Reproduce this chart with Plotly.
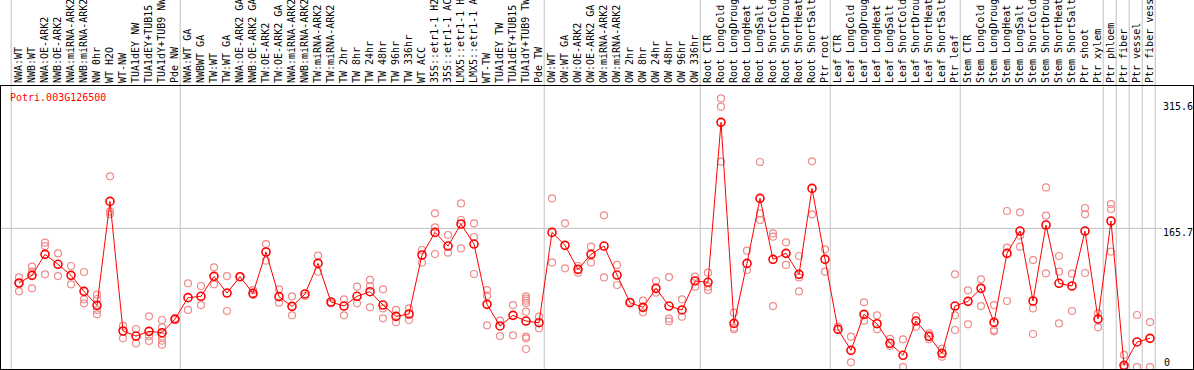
import plotly.graph_objects as go

title_text = "Potri.003G126500"

labels = [
    "NWA:WT", "NWB:WT", "NWA:OE-ARK2", "NWB:OE-ARK2", "NWA:miRNA-ARK2", "NWB:miRNA-ARK2",
    "NW 0hr", "WT H2O", "WT-NW", "TUA1dEY NW", "TUA1dEY+TUB15 NW", "TUA1dY+TUB9 NW", "Pde NW",
    "NWA:WT GA", "NWBWT GA", "TW:WT", "TW:WT GA", "NWA:OE-ARK2 GA", "NWB:OE-ARK2 GA",
    "TW:OE-ARK2", "TW:OE-ARK2 GA", "NWA:miRNA-ARK2 GA", "NWB:miRNA-ARK2 GA", "TW:miRNA-ARK2",
    "TW:miRNA-ARK2 GA", "TW 2hr", "TW 8hr", "TW 24hr", "TW 48hr", "TW 96hr", "TW 336hr",
    "WT ACC", "35S::etr1-1 H2O", "35S::etr1-1 ACC", "LMX5::etr1-1 H2O", "LMX5::etr1-1 ACC",
    "WT-TW", "TUA1dEY TW", "TUA1dEY+TUB15 TW", "TUA1dY+TUB9 TW", "Pde TW",
    "OW:WT", "OW:WT GA", "OW:OE-ARK2", "OW:OE-ARK2 GA", "OW:miRNA-ARK2", "OW:miRNA-ARK2 GA",
    "OW 2hr", "OW 8hr", "OW 24hr", "OW 48hr", "OW 96hr", "OW 336hr",
    "Root CTR", "Root LongCold", "Root LongDrought", "Root LongHeat", "Root LongSalt",
    "Root ShortCold", "Root ShortDrought", "Root ShortHeat", "Root ShortSalt", "Ptr root",
    "Leaf CTR", "Leaf LongCold", "Leaf LongDrought", "Leaf LongHeat", "Leaf LongSalt",
    "Leaf ShortCold", "Leaf ShortDrought", "Leaf ShortHeat", "Leaf ShortSalt", "Ptr leaf",
    "Stem CTR", "Stem LongCold", "Stem LongDrought", "Stem LongHeat", "Stem LongSalt",
    "Stem ShortCold", "Stem ShortDrought", "Stem ShortHeat", "Stem ShortSalt", "Ptr shoot",
    "Ptr xylem", "Ptr phloem", "Ptr fiber", "Ptr vessel", "Ptr fiber vessel",
]

means = [
    100.5, 109.6, 134.7, 122.8, 109.6, 90.5, 73.8, 197.9, 43.2, 37.2, 42.8, 41.2, 57.5,
    83.0, 84.6, 108.4, 88.5, 108.0, 88.1, 137.5, 84.2, 72.6, 87.4, 123.9, 77.8, 73.0,
    84.6, 90.1, 74.2, 60.7, 63.5, 133.9, 160.9, 144.6, 170.9, 147.0, 75.0, 49.2, 61.9,
    55.1, 53.1,
    160.9, 145.4, 116.8, 134.7, 144.6, 110.0, 77.0, 71.4, 94.1, 73.0, 68.3, 102.9,
    101.3, 292.2, 52.3, 123.9, 201.5, 128.7, 135.9, 110.8, 213.4, 128.7,
    45.2, 20.1, 63.1, 51.9, 28.5, 14.2, 55.1, 36.8, 16.5, 73.0,
    78.6, 94.1, 53.5, 135.9, 162.5, 79.0, 169.7, 100.1, 96.9, 162.5,
    57.5, 174.5, 2.2, 30.1, 34.4,
]

replicates = [
    [107.2, 90.5, 100.5], [120.0, 114.0, 94.1], [148.6, 144.6, 110.8], [135.9, 108.8],
    [120.8, 98.9], [113.6, 81.0, 76.2], [86.6, 81.4, 68.3, 63.1], [227.8, 185.6, 182.8],
    [49.2, 34.4], [45.6, 28.5], [60.7, 37.2, 31.3], [56.3, 47.6, 36.4, 31.7, 26.9],
    [56.3, 58.0],
    [100.1, 68.3], [96.9, 74.2], [119.2, 98.9], [108.8, 67.1], [108.0], [92.1, 86.2],
    [147.0, 127.1], [92.9, 77.0], [84.6, 61.9], [85.0], [133.1, 114.0], [76.2],
    [81.0, 61.9], [96.1, 76.2], [104.1, 96.9, 71.4], [92.9, 70.2, 58.3], [68.3, 53.5],
    [70.2, 56.3], [139.9, 124.7], [183.6, 166.9, 135.1], [157.8, 136.7],
    [195.5, 175.7, 141.8], [171.7, 155.4, 111.2], [92.1, 85.4, 50.0], [55.5, 37.2],
    [74.2, 38.0], [84.6, 82.0, 79.4, 76.6, 66.3, 36.4, 34.4, 21.7], [60.3, 46.4],
    [201.5, 125.1], [171.7, 118.0], [120.8, 112.8], [143.8, 125.1], [181.2, 107.2],
    [122.0, 98.1], [78.2], [79.4, 65.5], [102.9, 88.9], [107.6, 57.9, 54.7], [81.0, 60.3],
    [108.0, 96.1],
    [112.8, 96.1, 92.1], [320.8, 310.9, 245.3], [65.1, 47.2, 45.2], [139.1, 116.0],
    [244.9, 183.6, 175.7], [159.7, 155.8, 73.0], [149.0, 122.0], [132.7, 107.2, 90.5],
    [245.7, 182.4], [140.7, 114.0],
    [48.4], [36.4, 5.8], [77.4, 55.5], [61.9, 45.2], [33.7, 25.3], [33.3, 0.0],
    [61.1, 48.4], [40.4, 33.3], [22.2, 12.6], [110.8, 61.9, 44.4],
    [91.7, 51.2], [104.9, 73.0], [74.2, 44.4, 42.8], [186.4, 142.6, 79.0],
    [184.8, 157.0, 143.8], [127.9, 70.2, 39.6], [214.6, 180.8, 112.0],
    [132.7, 114.0, 52.3], [111.6, 67.1], [190.0, 182.4, 112.4],
    [64.3, 47.6], [194.7, 188.8, 137.9], [14.6, 0.0], [62.3, 0.0], [53.9, 0.0],
]

# index of last sample in each group (separator drawn after it)
group_ends = [-1, 12, 40, 52, 62, 72, 83, 84, 85, 86, 87]

y_ticks = [315.6, 165.7, 0]
y_tick_text = ["315.6", "165.7", "0"]

FONT = "DejaVu Sans Mono"
n = len(labels)
xs = list(range(n))

rep_x, rep_y = [], []
for i, reps in enumerate(replicates):
    for v in reps:
        rep_x.append(i)
        rep_y.append(v)

fig = go.Figure()
fig.add_trace(go.Scatter(
    x=rep_x, y=rep_y, mode="markers",
    marker=dict(symbol="circle-open", size=7, color="rgb(238,140,140)", line=dict(width=1.2)),
    hoverinfo="skip",
))
fig.add_trace(go.Scatter(
    x=xs, y=means, mode="lines+markers",
    line=dict(color="#ff0000", width=1),
    marker=dict(symbol="circle-open", size=8, color="#ff0000", line=dict(width=1.6)),
))

H_PLOT = 283.0
shapes = []
for g in group_ends:
    shapes.append(dict(type="line", xref="x", yref="paper", x0=g + 0.4, x1=g + 0.4,
                       y0=-0.01, y1=1 + 90 / H_PLOT, line=dict(color="#c0c0c0", width=1),
                       layer="below"))
shapes.append(dict(type="line", xref="paper", yref="y", x0=0, x1=0.9745,
                   y0=165.7, y1=165.7, line=dict(color="#c0c0c0", width=1), layer="below"))

ann = [dict(text=title_text, xref="paper", yref="paper", x=(8 - 1) / 1192,
            y=(369 - 97.5) / H_PLOT, xanchor="left", yanchor="middle", showarrow=False,
            font=dict(family=FONT, size=10, color="#ff0000"))]
tick_pix = [106.7, 232.3, 362.3]
tick_x = [1161, 1161, 1162]
for t, py, px in zip(y_tick_text, tick_pix, tick_x):
    ann.append(dict(text=t, xref="paper", yref="paper", x=(px - 1) / 1192,
                    y=(369 - py) / H_PLOT, xanchor="left", yanchor="middle",
                    showarrow=False, font=dict(family=FONT, size=10, color="black")))

fig.update_layout(
    width=1194, height=370,
    margin=dict(l=1, r=1, t=86, b=1, pad=0),
    paper_bgcolor="white", plot_bgcolor="white",
    showlegend=False,
    shapes=shapes, annotations=ann,
    xaxis=dict(range=[-1.3846, 90.3077], side="top", tickmode="array", tickvals=xs,
               ticktext=labels, tickangle=-90, ticks="", showgrid=False, zeroline=False,
               showline=True, linecolor="black", linewidth=1, mirror=True,
               automargin=False, tickfont=dict(family=FONT, size=10, color="black")),
    yaxis=dict(range=[-2.15, 335.6], showticklabels=False, ticks="", showgrid=False,
               zeroline=False, showline=True, linecolor="black", linewidth=1, mirror=True,
               automargin=False),
)

fig.write_html("out.html", config={"displayModeBar": False},
               post_script="document.body.style.margin='0';document.body.style.overflow='hidden';")
